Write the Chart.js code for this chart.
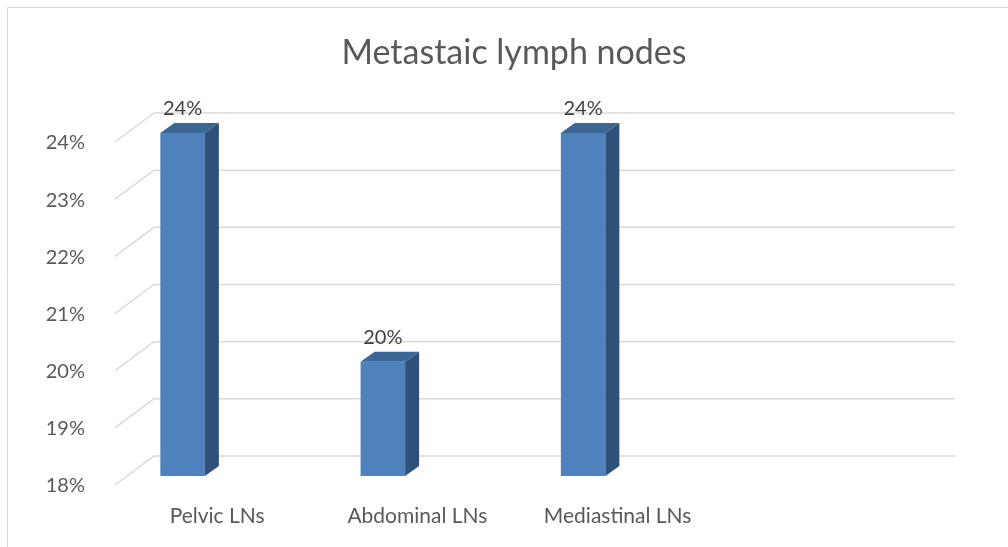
<!DOCTYPE html>
<html>
<head>
<meta charset="utf-8">
<title>Metastaic lymph nodes</title>
<script src="https://cdn.jsdelivr.net/npm/chart.js@4"></script>
<style>
    html, body { margin: 0; padding: 0; background: #ffffff; }
    #wrap { width: 1008px; height: 547px; position: relative; }
</style>
</head>
<body>
<div id="wrap"><canvas id="lnChart"></canvas></div>
<script>
const chartTitle = 'Metastaic lymph nodes'
const categories = [ 'Pelvic LNs', 'Abdominal LNs', 'Mediastinal LNs', '' ]
const seriesValues = [ 24, 20, 24, null ]
const yTicks = [ 18, 19, 20, 21, 22, 23, 24 ]

const FONT = 'Lato'
const TEXT_GREY = '#595959'
const GRID_GREY = '#d9d9d9'

// depth offsets for the fake 3D look
const WALL = { dx: 27, dy: -20 }
const FRONT = { dx: -12, dy: 9 }
const BAR_DEPTH = { dx: 14, dy: -10 }

const frame = {
    id: 'frame',
    beforeDraw ( chart ) {
        const c = chart.ctx
        c.save()
        c.strokeStyle = GRID_GREY
        c.lineWidth = 1
        c.beginPath()
        c.moveTo( 7.5, 547 )
        c.lineTo( 7.5, 7.5 )
        c.lineTo( 1008, 7.5 )
        c.stroke()

        c.fillStyle = TEXT_GREY
        c.font = `34px ${ FONT }`
        c.textAlign = 'center'
        c.textBaseline = 'middle'
        c.fillText( chartTitle, 514, 53 )
        c.restore()
    }
}

const wallGrid = {
    id: 'wallGrid',
    beforeDatasetsDraw ( chart ) {
        const c = chart.ctx
        const y = chart.scales.y
        const { left, right } = chart.chartArea
        c.save()
        c.strokeStyle = GRID_GREY
        c.lineWidth = 1.5
        yTicks.forEach( v => {
            const py = y.getPixelForValue( v )
            c.beginPath()
            c.moveTo( left + FRONT.dx, py + FRONT.dy )
            c.lineTo( left + WALL.dx, py + WALL.dy )
            c.lineTo( right + WALL.dx, py + WALL.dy )
            c.stroke()
        } )
        c.restore()
    }
}

const barFaces = {
    id: 'barFaces',
    afterDatasetsDraw ( chart ) {
        const c = chart.ctx
        const meta = chart.getDatasetMeta( 0 )
        const floor = chart.scales.y.getPixelForValue( yTicks[ 0 ] )
        c.save()
        meta.data.forEach( ( bar, i ) => {
            if ( seriesValues[ i ] == null ) return
            const { x, y, width } = bar.getProps( [ 'x', 'y', 'width' ], true )
            const l = x - width / 2
            const r = x + width / 2
            // top
            c.fillStyle = '#3c6696'
            c.beginPath()
            c.moveTo( l, y )
            c.lineTo( r, y )
            c.lineTo( r + BAR_DEPTH.dx, y + BAR_DEPTH.dy )
            c.lineTo( l + BAR_DEPTH.dx, y + BAR_DEPTH.dy )
            c.closePath()
            c.fill()
            // side
            c.fillStyle = '#2f5179'
            c.beginPath()
            c.moveTo( r, y )
            c.lineTo( r + BAR_DEPTH.dx, y + BAR_DEPTH.dy )
            c.lineTo( r + BAR_DEPTH.dx, floor + BAR_DEPTH.dy )
            c.lineTo( r, floor )
            c.closePath()
            c.fill()
            // value label
            c.fillStyle = '#404040'
            c.font = `20px ${ FONT }`
            c.textAlign = 'center'
            c.textBaseline = 'alphabetic'
            c.fillText( seriesValues[ i ] + '%', x, y - 18 )
        } )
        c.restore()
    }
}

const ctx = document.getElementById( 'lnChart' ).getContext( '2d' )
const lnChart = new Chart( ctx, {
    type: 'bar',
    data: {
        labels: categories,
        datasets: [
            { label: 'Series 1', data: seriesValues, backgroundColor: '#4f81bd', borderWidth: 0 },
            { label: 'Series 2', data: [], backgroundColor: '#c0504d' },
            { label: 'Series 3', data: [], backgroundColor: '#9bbb59' }
        ]
    },
    options: {
        responsive: true,
        maintainAspectRatio: false,
        animation: false,
        categoryPercentage: 0.667,
        barPercentage: 1,
        layout: { padding: { top: 133, right: 80, bottom: 0, left: 0 } },
        plugins: {
            legend: { display: false },
            title: { display: false },
            tooltip: { enabled: false }
        },
        scales: {
            x: {
                grid: { display: false },
                border: { display: false },
                ticks: {
                    color: TEXT_GREY,
                    font: { family: FONT, size: 21 },
                    padding: 20,
                    labelOffset: FRONT.dx + 2,
                    maxRotation: 0
                },
                afterFit ( scale ) { scale.height = 71 }
            },
            y: {
                min: 18,
                max: 24,
                grid: { display: false },
                border: { display: false },
                ticks: {
                    stepSize: 1,
                    color: TEXT_GREY,
                    font: { family: FONT, size: 20 },
                    padding: 34,
                    labelOffset: FRONT.dy + 1,
                    callback: v => v + '%'
                },
                afterFit ( scale ) { scale.width = 127 }
            }
        }
    },
    plugins: [ frame, wallGrid, barFaces ]
} )
</script>
</body>
</html>
